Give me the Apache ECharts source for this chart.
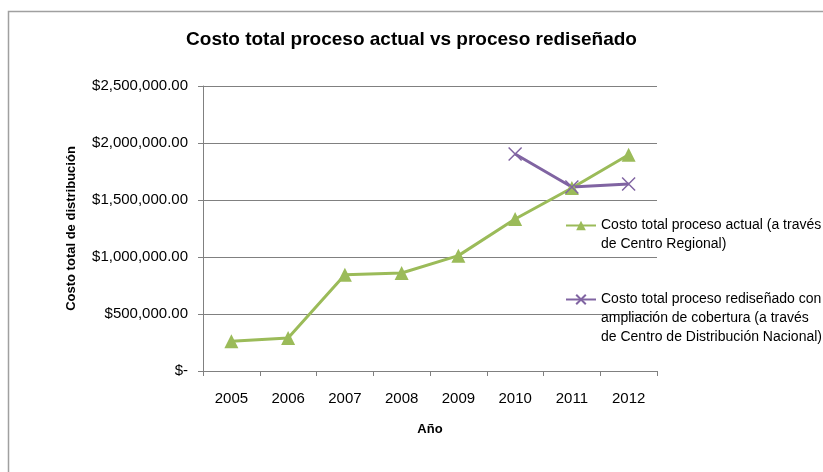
<!DOCTYPE html>
<html>
<head>
<meta charset="utf-8">
<script src="https://cdn.jsdelivr.net/npm/echarts@6/dist/echarts.min.js"></script>
<style>
html,body{margin:0;padding:0;background:#fff;}
#chart{width:823px;height:472px;}
</style>
</head>
<body>
<div id="chart"></div>
<script>
const years = ['2005','2006','2007','2008','2009','2010','2011','2012'];
const actualCost = [260000, 290000, 845000, 860000, 1012000, 1333000, 1605000, 1897000];
const redesignCost = [null, null, null, null, null, 1903000, 1614000, 1640000];
const yTicks = [0, 500000, 1000000, 1500000, 2000000, 2500000];
const seriesNames = [
  'Costo total proceso actual (a través\nde Centro Regional)',
  'Costo total proceso rediseñado con\nampliación de cobertura (a través\nde Centro de Distribución Nacional)'
];

const FONT = '"Liberation Sans", Arial, sans-serif';
const chart = echarts.init(document.getElementById('chart'), null, {renderer: 'canvas'});

function fmtMoney(v) {
  if (v === 0) return '$-';
  return '$' + v.toLocaleString('en-US', {minimumFractionDigits: 2, maximumFractionDigits: 2});
}

const LH = 19;
const LFS = 14;
function legendFormatter(name) {
  return name.split('\n').map((l, i) => (i === 0 ? '{f|' : '{r|') + l + '}').join('\n');
}
function makeLegend(idx, top) {
  const n = seriesNames[idx].split('\n').length;
  return {
    orient: 'vertical',
    left: 565,
    top: top,
    padding: 0,
    itemWidth: 30,
    itemHeight: 12,
    itemGap: 5,
    data: [seriesNames[idx]],
    formatter: legendFormatter,
    textStyle: {
      fontFamily: FONT, fontSize: LFS, color: '#000', lineHeight: LH,
      rich: {
        f: {fontFamily: FONT, fontSize: LFS, color: '#000', lineHeight: n * LH, padding: [(n - 1) * LH, 0, 0, 0]},
        r: {fontFamily: FONT, fontSize: LFS, color: '#000', lineHeight: LH}
      }
    }
  };
}

chart.setOption({
  backgroundColor: '#fff',
  animation: false,
  title: {
    text: 'Costo total proceso actual vs proceso rediseñado',
    left: 'center',
    top: 25,
    textStyle: {fontFamily: FONT, fontSize: 19, fontWeight: 'bold', color: '#000'}
  },
  graphic: [{
    type: 'rect',
    shape: {x: 8.5, y: 11.5, width: 900, height: 600},
    style: {fill: null, stroke: '#a0a0a0', lineWidth: 1.5},
    silent: true
  }],
  legend: [makeLegend(0, 197), makeLegend(1, 252)],
  grid: {left: 203, right: 166, top: 86, bottom: 101, containLabel: false},
  xAxis: {
    type: 'category',
    data: years,
    boundaryGap: true,
    name: 'Año',
    nameLocation: 'middle',
    nameGap: 52,
    nameTextStyle: {fontFamily: FONT, fontSize: 13, fontWeight: 'bold', color: '#000'},
    axisLine: {lineStyle: {color: '#808080', width: 1}},
    axisTick: {show: true, alignWithLabel: false, length: 5, lineStyle: {color: '#808080'}},
    axisLabel: {fontFamily: FONT, fontSize: 15, color: '#000', margin: 20}
  },
  yAxis: {
    type: 'value',
    min: yTicks[0],
    max: yTicks[yTicks.length - 1],
    interval: yTicks[1] - yTicks[0],
    name: 'Costo total de distribución',
    nameLocation: 'middle',
    nameGap: 125,
    nameTextStyle: {fontFamily: FONT, fontSize: 13, fontWeight: 'bold', color: '#000'},
    axisLine: {show: true, lineStyle: {color: '#808080', width: 1}},
    axisTick: {show: true, length: 5, lineStyle: {color: '#808080'}},
    splitLine: {lineStyle: {color: '#808080', width: 1}},
    axisLabel: {fontFamily: FONT, fontSize: 15, color: '#000', margin: 15, formatter: fmtMoney}
  },
  series: [{
    name: seriesNames[0],
    type: 'line',
    data: actualCost,
    symbol: 'triangle',
    symbolSize: 14,
    lineStyle: {color: '#9BBB59', width: 3},
    itemStyle: {color: '#9BBB59'}
  }, {
    name: seriesNames[1],
    type: 'line',
    data: redesignCost,
    symbol: 'path://M0,0L10,10M10,0L0,10',
    symbolSize: 13,
    lineStyle: {color: '#8064A2', width: 3},
    itemStyle: {color: '#8064A2', borderColor: '#8064A2', borderWidth: 1.5}
  }]
});
</script>
</body>
</html>
